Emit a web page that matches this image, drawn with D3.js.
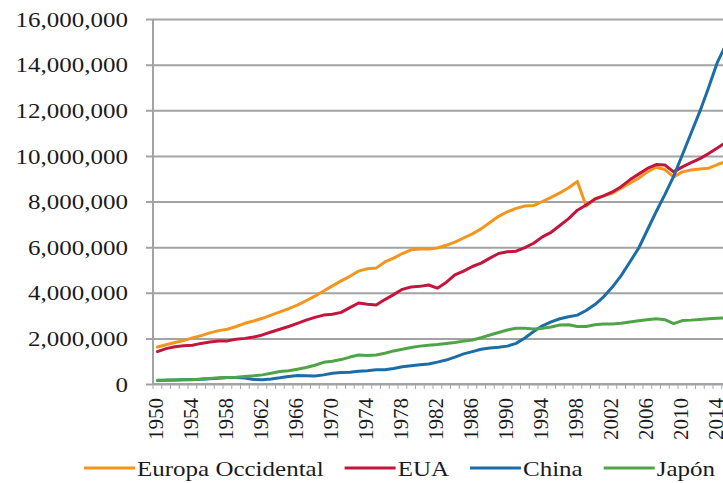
<!DOCTYPE html>
<html>
<head>
<meta charset="utf-8">
<script src="https://cdn.jsdelivr.net/npm/d3@7/dist/d3.min.js"></script>
<style>
  html, body { margin: 0; padding: 0; background: #fff; overflow: hidden; }
  svg { display: block; font-family: "Liberation Serif", "Times New Roman", serif; }
</style>
</head>
<body>
<svg id="chart" width="723" height="483"></svg>
<script>
// PIB anual (millones), 1950–2015
const years = d3.range(1950, 2016);

const europaOccidental = [
  1.62, 1.72, 1.82, 1.90, 2.02, 2.12, 2.24, 2.34, 2.40, 2.52,
  2.66, 2.76, 2.88, 3.02, 3.16, 3.30, 3.46, 3.65, 3.85, 4.08,
  4.30, 4.52, 4.72, 4.95, 5.05, 5.08, 5.35, 5.52, 5.72, 5.88,
  5.92, 5.92, 5.96, 6.08, 6.22, 6.40, 6.58, 6.80, 7.08, 7.35,
  7.55, 7.70, 7.80, 7.82, 8.00, 8.18, 8.38, 8.60, 8.88, 7.80,
  8.12, 8.25, 8.36, 8.58, 8.80, 9.02, 9.30, 9.50, 9.40, 9.08,
  9.30, 9.38, 9.42, 9.46, 9.62, 9.75
];

const eua = [
  1.42, 1.55, 1.63, 1.68, 1.70, 1.78, 1.84, 1.88, 1.89, 1.96,
  2.00, 2.06, 2.15, 2.28, 2.40, 2.52, 2.66, 2.80, 2.92, 3.02,
  3.06, 3.14, 3.35, 3.55, 3.50, 3.46, 3.70, 3.92, 4.15, 4.25,
  4.28, 4.34, 4.20, 4.45, 4.78, 4.95, 5.15, 5.30, 5.52, 5.72,
  5.80, 5.82, 5.98, 6.17, 6.45, 6.65, 6.95, 7.25, 7.62, 7.85,
  8.10, 8.25, 8.42, 8.65, 8.95, 9.20, 9.45, 9.62, 9.60, 9.30,
  9.52, 9.70, 9.88, 10.10, 10.35, 10.60
];

const china = [
  0.15, 0.16, 0.18, 0.19, 0.20, 0.21, 0.23, 0.25, 0.28, 0.28,
  0.26, 0.20, 0.19, 0.22, 0.27, 0.33, 0.37, 0.36, 0.35, 0.40,
  0.47, 0.50, 0.52, 0.56, 0.58, 0.62, 0.62, 0.68, 0.76, 0.80,
  0.84, 0.88, 0.96, 1.05, 1.18, 1.32, 1.42, 1.52, 1.58, 1.61,
  1.66, 1.78, 2.02, 2.30, 2.55, 2.72, 2.86, 2.95, 3.02, 3.22,
  3.48, 3.82, 4.25, 4.75, 5.35, 5.95, 6.75, 7.55, 8.30, 9.10,
  10.05, 11.00, 11.95, 13.00, 14.10, 14.90
];

const japon = [
  0.16, 0.17, 0.18, 0.19, 0.19, 0.22, 0.24, 0.27, 0.29, 0.30,
  0.33, 0.36, 0.40, 0.47, 0.55, 0.58, 0.65, 0.72, 0.82, 0.95,
  1.00, 1.07, 1.18, 1.27, 1.25, 1.27, 1.35, 1.45, 1.52, 1.60,
  1.66, 1.70, 1.73, 1.78, 1.82, 1.88, 1.93, 2.03, 2.15, 2.26,
  2.37, 2.44, 2.44, 2.41, 2.44, 2.50, 2.59, 2.60, 2.52, 2.52,
  2.60, 2.63, 2.63, 2.66, 2.72, 2.77, 2.82, 2.86, 2.82, 2.65,
  2.78, 2.80, 2.83, 2.86, 2.88, 2.90
];

const seriesNames = ["Europa Occidental", "EUA", "China", "Japón"];
const seriesColors = ["#F5961C", "#C2163D", "#1C6DA6", "#4FA447"];
const seriesValues = [europaOccidental, eua, china, japon];

const yTicks = [0, 2, 4, 6, 8, 10, 12, 14, 16];
const xTickYears = [1950, 1954, 1958, 1962, 1966, 1970, 1974, 1978, 1982,
                    1986, 1990, 1994, 1998, 2002, 2006, 2010, 2014];

// ---- layout ----
const svg = d3.select("#chart");
const axisX = 153, baseY = 384, topY = 19;
const step = 8.75;
const plotRight = axisX + years.length * step;
const textColor = "#1b1b1b";
const gridColor = "#a3a3a3";
const hStretch = 1.19;   // wide text face

const x = d3.scaleBand().domain(years).range([axisX, plotRight]).paddingInner(0).paddingOuter(0);
const y = d3.scaleLinear().domain([0, 16]).range([baseY, topY]);
const cx = yr => x(yr) + x.bandwidth() / 2;
const fmt = v => d3.format(",")(Math.round(v * 1e6));

// gridlines (with short outer ticks left of the axis)
const grid = svg.append("g")
  .attr("transform", `translate(${axisX - 7},0)`)
  .call(d3.axisLeft(y).tickValues(yTicks).tickSize(-(plotRight - axisX + 7)).tickFormat(""));
grid.select(".domain").remove();
grid.selectAll(".tick line").attr("stroke", gridColor).attr("stroke-width", 2);

// y labels
const yLab = svg.append("g")
  .attr("transform", `translate(${axisX},0)`)
  .call(d3.axisLeft(y).tickValues(yTicks).tickSize(0).tickFormat(fmt));
yLab.select(".domain").remove();
yLab.selectAll("text")
  .attr("x", -25 / hStretch)
  .attr("dy", "0.34em")
  .attr("transform", `scale(${hStretch},1)`)
  .attr("fill", textColor)
  .style("font-family", "'Liberation Serif', 'Times New Roman', serif")
  .style("font-size", "21px");

// vertical axis line
svg.append("line")
  .attr("x1", axisX).attr("x2", axisX)
  .attr("y1", y(16)).attr("y2", y(0))
  .attr("stroke", gridColor).attr("stroke-width", 2);

// horizontal axis: year boundary ticks
svg.append("g").selectAll("line")
  .data(years.concat([null]))
  .join("line")
  .attr("x1", d => d === null ? plotRight : x(d))
  .attr("x2", d => d === null ? plotRight : x(d))
  .attr("y1", baseY).attr("y2", baseY + 5)
  .attr("stroke", "#a8aab4").attr("stroke-width", 1);

svg.append("line")
  .attr("x1", axisX).attr("x2", plotRight)
  .attr("y1", baseY).attr("y2", baseY)
  .attr("stroke", gridColor).attr("stroke-width", 2);

// x labels (rotated)
const xAx = svg.append("g")
  .attr("transform", `translate(0,${baseY})`)
  .call(d3.axisBottom(x).tickValues(xTickYears).tickSize(0));
xAx.select(".domain").remove();
xAx.selectAll("text")
  .attr("transform", "rotate(-90)")
  .attr("x", -14)
  .attr("y", 0)
  .attr("dy", "0.28em")
  .attr("text-anchor", "end")
  .attr("fill", textColor)
  .style("font-family", "'Liberation Serif', 'Times New Roman', serif")
  .style("font-size", "21px");

// series lines
const line = d3.line()
  .x((d, i) => cx(years[i]))
  .y(d => y(d));

svg.append("g").selectAll("path")
  .data(seriesValues)
  .join("path")
  .attr("d", d => line(d))
  .attr("fill", "none")
  .attr("stroke", (d, i) => seriesColors[i])
  .attr("stroke-width", 3)
  .attr("stroke-linejoin", "round")
  .attr("stroke-linecap", "round");

// legend
const legend = svg.append("g");
let lx = 84;
const ly = 468;
seriesNames.forEach((name, i) => {
  legend.append("line")
    .attr("x1", lx).attr("x2", lx + 51)
    .attr("y1", ly).attr("y2", ly)
    .attr("stroke", seriesColors[i]).attr("stroke-width", 3);
  const tx = lx + 53;
  const t = legend.append("text")
    .attr("transform", `translate(${tx},${ly + 8}) scale(${hStretch},1)`)
    .attr("fill", textColor)
    .style("font-size", "21px")
    .text(name);
  const w = t.node().getComputedTextLength() * hStretch;
  lx = tx + w + 21;
});
</script>
</body>
</html>
